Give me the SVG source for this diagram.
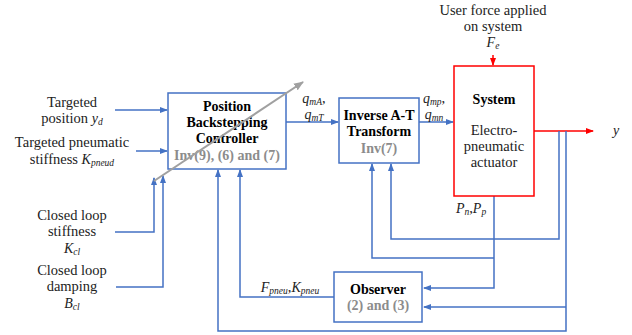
<svg xmlns="http://www.w3.org/2000/svg" width="632" height="335" viewBox="0 0 632 335">
<defs>
<marker id="ab" markerWidth="8" markerHeight="6" refX="7" refY="3" orient="auto" markerUnits="userSpaceOnUse"><path d="M0,0 L8,3 L0,6 z" fill="#4472c4"/></marker>
<marker id="ar" markerWidth="8" markerHeight="6" refX="7" refY="3" orient="auto" markerUnits="userSpaceOnUse"><path d="M0,0 L8,3 L0,6 z" fill="#ff0000"/></marker>
<marker id="ag" markerWidth="10" markerHeight="8" refX="9" refY="4" orient="auto" markerUnits="userSpaceOnUse"><path d="M0,0 L10,4 L0,8 z" fill="#a0a0a0"/></marker>
</defs>
<style>
text{font-size:14.5px;fill:#222;text-anchor:middle}
.b{font-weight:bold;font-size:14px;fill:#000}
.g{font-weight:bold;font-size:14px;fill:#8c8c8c}
.m{font-style:italic;font-size:14px}
.s{font-size:9.5px}
.box{fill:#fff;stroke:#4472c4;stroke-width:1.5}
.c{fill:none;stroke:#4472c4;stroke-width:1.5}
.r{fill:none;stroke:#ff0000;stroke-width:1.5}
</style>
<rect width="632" height="335" fill="#fff"/>
<g id="connectors">
<path class="c" d="M115,110 H167" marker-end="url(#ab)"/>
<path class="c" d="M136,151 H167" marker-end="url(#ab)"/>
<path class="c" d="M115,232 H154 V178" marker-end="url(#ab)"/>
<path class="c" d="M116,287 H163 V176" marker-end="url(#ab)"/>
<path class="c" d="M286,122 H338" marker-end="url(#ab)"/>
<path class="c" d="M419,122 H453" marker-end="url(#ab)"/>
<path class="r" d="M493,55 V65" marker-end="url(#ar)"/>
<path class="r" d="M534,131 H593" marker-end="url(#ar)"/>
<path class="c" d="M559,131 V239 H391 V164" marker-end="url(#ab)"/>
<path class="c" d="M566,131 V331 H218 V170" marker-end="url(#ab)"/>
<path class="c" d="M566,307 H424" marker-end="url(#ab)"/>
<path class="c" d="M494,196 V288 H424" marker-end="url(#ab)"/>
<path class="c" d="M494,258 H372 V164" marker-end="url(#ab)"/>
<path class="c" d="M334,297 H240 V170" marker-end="url(#ab)"/>
</g>
<g font-family="Liberation Serif, DejaVu Serif, serif">
<g id="controller">
<rect class="box" x="168" y="93" width="118" height="76"/>
<text class="b" x="227" y="111">Position</text>
<text class="b" x="227" y="127">Backstepping</text>
<text class="b" x="227" y="143">Controller</text>
<text class="g" x="227" y="160">Inv(9), (6) and (7)</text>
</g>
<g id="inverse">
<rect class="box" x="339" y="98" width="80" height="65"/>
<text class="b" x="379" y="120">Inverse A-T</text>
<text class="b" x="379" y="136">Transform</text>
<text class="g" x="379" y="153">Inv(7)</text>
</g>
<g id="system">
<rect x="454" y="66" width="80" height="130" fill="#fff" stroke="#ff0000" stroke-width="1.5"/>
<text class="b" x="494" y="104">System</text>
<text x="494" y="135">Electro-</text>
<text x="494" y="151">pneumatic</text>
<text x="494" y="167">actuator</text>
</g>
<g id="observer">
<rect class="box" x="334" y="272" width="88" height="50"/>
<text class="b" x="378" y="294">Observer</text>
<text class="g" x="378" y="310">(2) and (3)</text>
</g>
<g id="variable-gain">
<line x1="154" y1="181" x2="303" y2="82" stroke="#a0a0a0" stroke-width="2" marker-end="url(#ag)"/>
</g>
<g id="labels">
<text x="72" y="107">Targeted</text>
<text x="72" y="123">position <tspan class="m">y</tspan><tspan class="m s" dy="2">d</tspan></text>
<text x="72" y="147">Targeted pneumatic</text>
<text x="72" y="164">stiffness <tspan class="m">K</tspan><tspan class="m s" dy="2">pneud</tspan></text>
<text x="72" y="220">Closed loop</text>
<text x="72" y="236">stiffness</text>
<text x="72" y="253"><tspan class="m">K</tspan><tspan class="m s" dy="2">cl</tspan></text>
<text x="72" y="275">Closed loop</text>
<text x="72" y="291">damping</text>
<text x="72" y="308"><tspan class="m">B</tspan><tspan class="m s" dy="2">cl</tspan></text>
<text x="493" y="15">User force applied</text>
<text x="493" y="31">on system</text>
<text x="493" y="47"><tspan class="m">F</tspan><tspan class="m s" dy="2">e</tspan></text>
<text x="314" y="103"><tspan class="m">q</tspan><tspan class="m s" dy="2">mA</tspan><tspan dy="-2">,</tspan></text>
<text x="314" y="119"><tspan class="m">q</tspan><tspan class="m s" dy="2">mT</tspan></text>
<text x="434" y="103"><tspan class="m">q</tspan><tspan class="m s" dy="2">mp</tspan><tspan dy="-2">,</tspan></text>
<text x="434" y="119"><tspan class="m">q</tspan><tspan class="m s" dy="2">mn</tspan></text>
<text x="616" y="135" class="m">y</text>
<text x="471" y="213"><tspan class="m">P</tspan><tspan class="m s" dy="2">n</tspan><tspan dy="-2">,</tspan><tspan class="m">P</tspan><tspan class="m s" dy="2">p</tspan></text>
<text x="290" y="292"><tspan class="m">F</tspan><tspan class="m s" dy="2">pneu</tspan><tspan dy="-2">,</tspan><tspan class="m">K</tspan><tspan class="m s" dy="2">pneu</tspan></text>
</g>
</g>
</svg>
